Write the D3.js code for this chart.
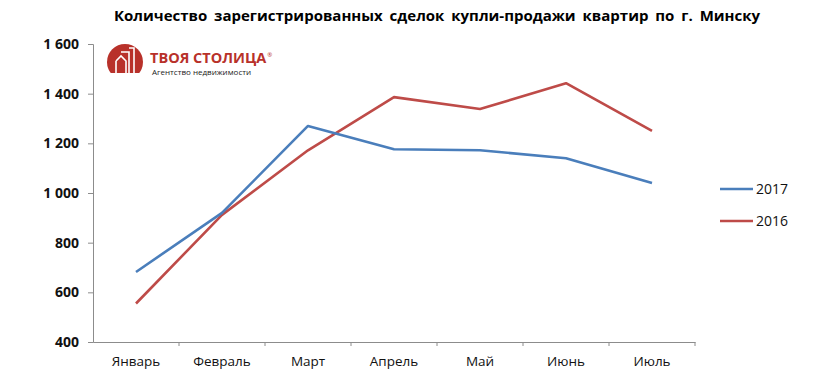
<!doctype html>
<html lang="ru">
<head>
<meta charset="utf-8">
<title>Сделки купли-продажи квартир</title>
<style>
  body { margin: 0; background: #fff; }
  .axis path, .axis line { stroke: #8c8c8c; }
  .axis text { fill: #111; }
</style>
</head>
<body>
<svg width="820" height="376"></svg>
<script src="https://cdn.jsdelivr.net/npm/d3@7"></script>
<script>
var months = ["Январь", "Февраль", "Март", "Апрель", "Май", "Июнь", "Июль"];
var values2017 = [682, 920, 1270, 1176, 1172, 1140, 1040];
var values2016 = [555, 912, 1172, 1386, 1338, 1442, 1250];
var yTicks = [400, 600, 800, 1000, 1200, 1400, 1600];
var seriesNames = ["2017", "2016"];
var colors = ["#4a7ebb", "#be4b48"];

var svg = d3.select("svg");
var x0 = 93, x1 = 695, yTop = 44, yBot = 342;

var x = d3.scaleBand().domain(months).range([x0, x1]);
var y = d3.scaleLinear().domain([400, 1600]).range([yBot, yTop]);
var fmt = function(v) { return d3.format(",")(v).replace(",", " "); };

// title
svg.append("text")
  .attr("x", 437).attr("y", 21)
  .attr("text-anchor", "middle")
  .style("font-family", "'Open Sans', sans-serif")
  .style("font-weight", "bold").style("font-size", "15px")
  .style("word-spacing", "3px")
  .text("Количество зарегистрированных сделок купли-продажи квартир по г. Минску");

// y axis
var yAxis = svg.append("g").attr("class", "axis")
  .attr("transform", "translate(" + x0 + ",0)")
  .call(d3.axisLeft(y).tickValues(yTicks).tickSize(5).tickPadding(9).tickFormat(fmt));
yAxis.selectAll("text")
  .style("font-family", "'Open Sans', sans-serif")
  .style("font-weight", "bold").style("font-size", "14px");

// x axis with ticks at category boundaries
var xAxis = svg.append("g").attr("class", "axis")
  .attr("transform", "translate(0," + yBot + ")")
  .call(d3.axisBottom(x).tickSize(0).tickPadding(14));
xAxis.selectAll("text")
  .style("font-family", "'Open Sans', sans-serif")
  .style("font-size", "13.5px");
xAxis.selectAll(".bound")
  .data(months.map(function(m) { return x(m) + x.bandwidth(); }))
  .enter().append("line")
  .attr("x1", function(d) { return d; }).attr("x2", function(d) { return d; })
  .attr("y1", 0).attr("y2", 4)
  .attr("stroke", "#8c8c8c");

// lines
var line = d3.line()
  .x(function(d, i) { return x(months[i]) + x.bandwidth() / 2; })
  .y(function(d) { return y(d); });

[values2016, values2017].forEach(function(vals, k) {
  svg.append("path")
    .attr("d", line(vals))
    .attr("fill", "none")
    .attr("stroke", k === 0 ? colors[1] : colors[0])
    .attr("stroke-width", 2.6)
    .attr("stroke-linejoin", "round");
});

// legend
var legend = svg.append("g").attr("transform", "translate(720,189)");
seriesNames.forEach(function(name, i) {
  var g = legend.append("g").attr("transform", "translate(0," + i * 32 + ")");
  g.append("line").attr("x1", 0).attr("x2", 33).attr("y1", 0).attr("y2", 0)
    .attr("stroke", colors[i]).attr("stroke-width", 2.6);
  g.append("text").attr("x", 36).attr("y", 5)
    .style("font-family", "'Open Sans', sans-serif").style("font-size", "14px")
    .attr("fill", "#111").text(name);
});

// logo
var logo = svg.append("g").attr("transform", "translate(125,62)");
logo.append("clipPath").attr("id", "lc")
  .append("rect").attr("x", -20).attr("y", -20).attr("width", 40).attr("height", 31);
logo.append("circle").attr("r", 18).attr("fill", "#b8312a").attr("clip-path", "url(#lc)");
logo.append("path")
  .attr("d", "M-9,11 V-1 M-9,-1 L-4,-6 L1,-1 V11 M-4,-10 H4 V11 M4,-14 H9 V11")
  .attr("fill", "none").attr("stroke", "#fff").attr("stroke-width", 1.6);
var brand = logo.append("text").attr("x", 25).attr("y", 1)
  .style("font-family", "'Open Sans', sans-serif").style("font-weight", "bold")
  .style("font-size", "14.5px").attr("fill", "#b8312a")
  .text("ТВОЯ СТОЛИЦА");
var bw = brand.node().getComputedTextLength();
logo.append("text").attr("x", 25 + bw + 1).attr("y", -5)
  .style("font-family", "'Open Sans', sans-serif").style("font-size", "6px")
  .attr("fill", "#b8312a").text("®");
logo.append("text").attr("x", 27).attr("y", 13)
  .style("font-family", "'Open Sans', sans-serif").style("font-size", "8px")
  .attr("fill", "#222").text("Агентство недвижимости");
</script>
</body>
</html>
